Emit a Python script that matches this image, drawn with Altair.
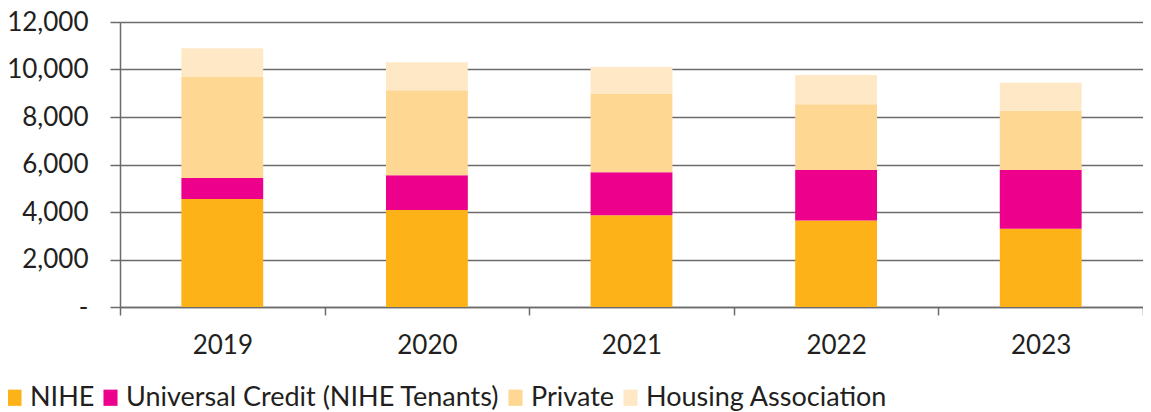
import altair as alt
import pandas as pd

years = ["2019", "2020", "2021", "2022", "2023"]
series = ["NIHE", "Universal Credit (NIHE Tenants)", "Private", "Housing Association"]
nihe = [4550, 4080, 3860, 3640, 3300]
uc = [880, 1470, 1810, 2130, 2470]
private = [4250, 3580, 3300, 2770, 2490]
ha = [1210, 1180, 1140, 1230, 1180]
colors = ["#FDB318", "#EC008C", "#FED792", "#FEE8C5"]
y_ticks = [0, 2000, 4000, 6000, 8000, 10000, 12000]

rows = []
for i, (name, vals) in enumerate(zip(series, [nihe, uc, private, ha])):
    for yr, v in zip(years, vals):
        rows.append({"Year": yr, "Series": name, "Value": v, "Order": i})
df = pd.DataFrame(rows)

font = "Lato"
text_color = "#231F20"
line_color = "#6B6B6B"

chart = alt.Chart(df).mark_bar(width=alt.RelativeBandSize(0.4)).encode(
    x=alt.X(
        "Year:N",
        title=None,
        scale=alt.Scale(paddingInner=0, paddingOuter=0),
        axis=alt.Axis(
            labelAngle=0, tickBand="extent", tickSize=8, tickColor=line_color,
            tickWidth=1.5, domainColor=line_color, domainWidth=1.5,
            labelPadding=17, labelFontSize=26, labelFont=font, labelColor=text_color,
            grid=False,
        ),
    ),
    y=alt.Y(
        "Value:Q",
        stack="zero",
        scale=alt.Scale(domain=[0, 12000]),
        axis=alt.Axis(
            values=y_ticks, title=None,
            labelExpr="datum.value == 0 ? '-' : format(datum.value, ',')",
            tickSize=10, tickColor=line_color, tickWidth=1.5,
            labelPadding=22, labelFontSize=26, labelFont=font, labelColor=text_color,
            domainColor=line_color, domainWidth=1.5,
            grid=True, gridColor=line_color, gridWidth=1.5,
        ),
    ),
    color=alt.Color(
        "Series:N",
        scale=alt.Scale(domain=series, range=colors),
        legend=alt.Legend(
            title=None, orient="none", legendX=-119, legendY=362,
            direction="horizontal", padding=0,
            symbolType="M-0.78,-0.9H0.78V0.9H-0.78Z", symbolSize=324,
            symbolStrokeWidth=0, labelLimit=500,
            labelFontSize=27, labelFont=font, labelColor=text_color,
            labelOffset=2, columnPadding=2,
        ),
    ),
    order=alt.Order("Order:Q", sort="ascending"),
).properties(
    width=1023, height=285,
    autosize=alt.AutoSizeParams(type="none"),
    padding={"left": 112, "top": 14, "right": 0, "bottom": 108},
).configure_view(stroke=None)

chart.save("out.html", embed_options={"renderer": "svg", "actions": False})
